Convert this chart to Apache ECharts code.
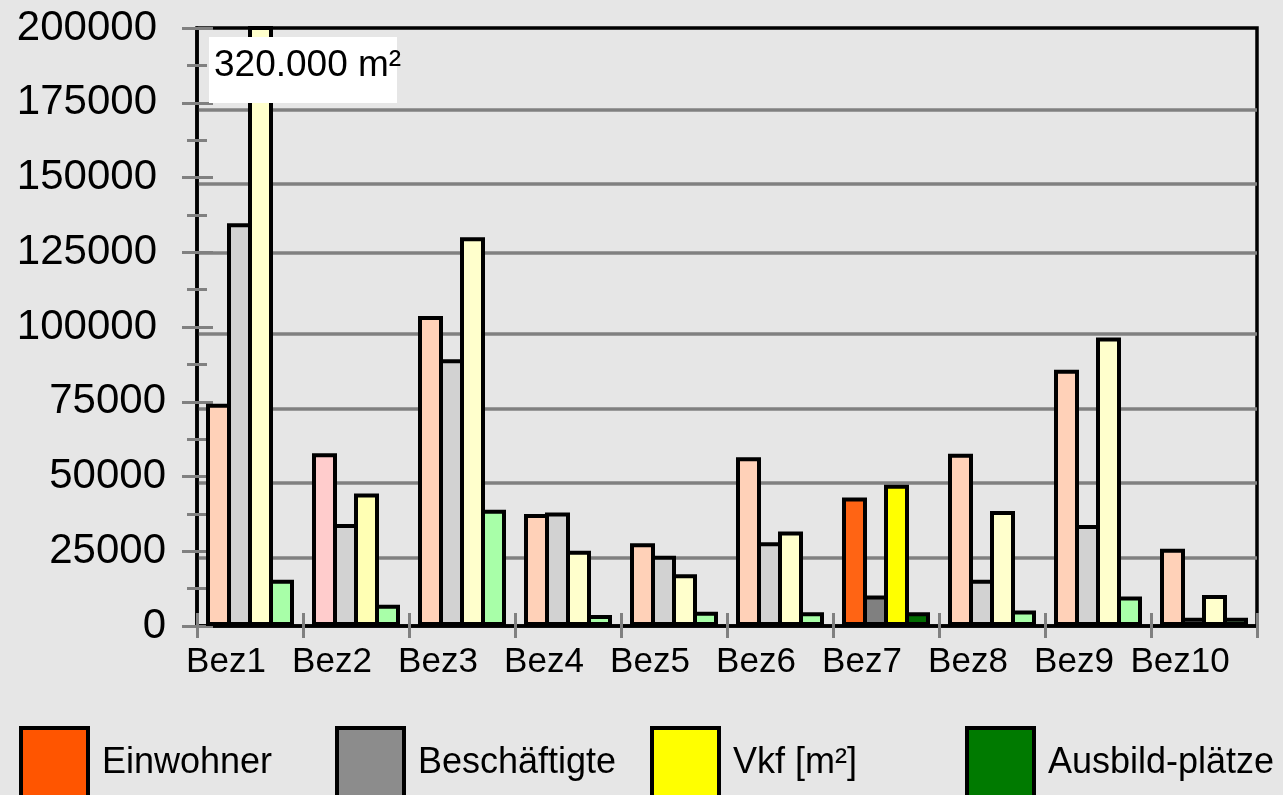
<!DOCTYPE html>
<html>
<head>
<meta charset="utf-8">
<title>Bezirke</title>
<script src="https://cdn.jsdelivr.net/npm/echarts@6/dist/echarts.min.js"></script>
<style>
  html, body { margin: 0; padding: 0; background: #e6e6e6; }
  #chart { width: 1283px; height: 795px; }
</style>
</head>
<body>
<div id="chart"></div>
<script>
// Werte je Bezirk
const categories = ['Bez1', 'Bez2', 'Bez3', 'Bez4', 'Bez5', 'Bez6', 'Bez7', 'Bez8', 'Bez9', 'Bez10'];
const einwohner = [74300, 57800, 103700, 37500, 27700, 56400, 43000, 57600, 85700, 25800];
const beschaeftigte = [134700, 34100, 89200, 38000, 23500, 28000, 10200, 15500, 33800, 2800];
const vkf = [320000, 44300, 130000, 25200, 17300, 31600, 47200, 38500, 96500, 10400];
const ausbildPlaetze = [15500, 7100, 38900, 3700, 4800, 4600, 4600, 5200, 9900, 2800];
const yMax = 200000;
const yStep = 25000;

const font = 'Liberation Sans';
const gridPos = { left: 197, right: 26, top: 28, height: 598 };
const HIGHLIGHT = 6; // Bez7 hervorgehoben

const seriesDefs = [
  { name: 'Einwohner', data: einwohner, legend: '#ff5500', light: '#ffd1b8', strong: '#ff6414', bez2: '#ffcccc' },
  { name: 'Beschäftigte', data: beschaeftigte, legend: '#8c8c8c', light: '#d2d2d2', strong: '#808080' },
  { name: 'Vkf [m²]', data: vkf, legend: '#ffff00', light: '#ffffcc', strong: '#ffff00', bez2: '#ffffb4' },
  { name: 'Ausbild-plätze', data: ausbildPlaetze, legend: '#007a00', light: '#a8ffa8', strong: '#006b00' }
];
const legendLeft = [19, 335, 650, 965];

function barColor(def, i) {
  if (i === HIGHLIGHT) return def.strong;
  if (i === 1 && def.bez2) return def.bez2;
  return def.light;
}

// splitLine-Farben: 125000 liegt auf der Teilstrichhöhe, die übrigen Linien sind leicht versetzt
const gray = '#808080';
const none = 'rgba(0,0,0,0)';
const splitOnTick = [none, none, none, none, none, gray, none, none, none];
const splitShifted = [none, gray, gray, gray, gray, none, gray, gray, none];

const chart = echarts.init(document.getElementById('chart'));
chart.setOption({
  animation: false,
  backgroundColor: '#e6e6e6',
  textStyle: { fontFamily: font },
  grid: [
    Object.assign({ show: true, borderColor: '#000', borderWidth: 3.5, backgroundColor: 'transparent' }, gridPos),
    { left: 197, right: 26, top: 34.6, height: 598 },
    Object.assign({}, gridPos)
  ],
  xAxis: [
    {
      type: 'category', gridIndex: 0, data: categories,
      axisLine: { lineStyle: { color: '#000', width: 3.5 } },
      axisTick: { show: true, length: 12, lineStyle: { color: gray, width: 3 } },
      axisLabel: {
        interval: 0, fontSize: 35, color: '#000', fontFamily: font,
        margin: 19, padding: [0, 48, 0, 0]
      },
      splitLine: { show: false }
    },
    {
      type: 'category', gridIndex: 1, data: categories,
      axisLine: { show: false }, axisTick: { show: false }, axisLabel: { show: false }
    },
    {
      type: 'category', gridIndex: 2, data: categories,
      axisLine: { show: false }, axisLabel: { show: false },
      axisTick: { show: true, inside: true, length: 13, lineStyle: { color: gray, width: 3 } }
    }
  ],
  yAxis: [
    {
      type: 'value', gridIndex: 0, min: 0, max: yMax, interval: yStep,
      axisLine: { show: true, lineStyle: { color: '#000', width: 3.5 } },
      axisTick: { show: true, length: 15, lineStyle: { color: gray, width: 3 } },
      minorTick: { show: true, splitNumber: 2, length: 10, lineStyle: { color: gray, width: 3 } },
      axisLabel: {
        margin: 31, color: '#000',
        formatter: (v) => (v >= 100000 ? '{w|' + v + '}' : '{n|' + v + '}'),
        rich: {
          w: { fontSize: 42, fontFamily: font, color: '#000', padding: [0, 9, 0, 0] },
          n: { fontSize: 42, fontFamily: font, color: '#000' }
        }
      },
      splitLine: { show: true, lineStyle: { color: splitOnTick, width: 3.5 } }
    },
    {
      type: 'value', gridIndex: 1, min: 0, max: yMax, interval: yStep,
      axisLine: { show: false }, axisTick: { show: false }, axisLabel: { show: false },
      splitLine: { show: true, lineStyle: { color: splitShifted, width: 3.5 } }
    },
    {
      type: 'value', gridIndex: 2, min: 0, max: yMax, interval: yStep,
      axisLine: { show: false }, axisLabel: { show: false },
      axisTick: { show: true, inside: true, length: 16, lineStyle: { color: gray, width: 3 } },
      minorTick: { show: true, splitNumber: 2, length: 10, lineStyle: { color: gray, width: 3 } },
      splitLine: { show: false }
    }
  ],
  legend: seriesDefs.map((def, k) => ({
    data: [def.name],
    left: legendLeft[k],
    top: 726,
    padding: 0,
    orient: 'horizontal',
    icon: 'rect',
    itemWidth: 67,
    itemHeight: 70,
    selectedMode: false,
    itemStyle: { borderColor: '#000', borderWidth: 4 },
    textStyle: { fontSize: 36, color: '#000', fontFamily: font, padding: [0, 0, 0, 9] }
  })),
  series: seriesDefs.map((def) => ({
    name: def.name,
    type: 'bar',
    xAxisIndex: 0,
    yAxisIndex: 0,
    barWidth: 25,
    barGap: '-16%',
    clip: true,
    emphasis: { disabled: true },
    itemStyle: { color: def.legend, borderColor: '#000', borderWidth: 4 },
    data: def.data.map((v, i) => ({ value: v, itemStyle: { color: barColor(def, i) } }))
  })),
  graphic: [
    {
      type: 'rect', z: 100,
      shape: { x: 209, y: 37, width: 188, height: 66 },
      style: { fill: '#fff' }
    },
    {
      type: 'text', z: 101, x: 214, y: 66,
      style: { text: '320.000 m²', fontSize: 37, fontFamily: font, fill: '#000', verticalAlign: 'middle' }
    }
  ]
});
</script>
</body>
</html>
